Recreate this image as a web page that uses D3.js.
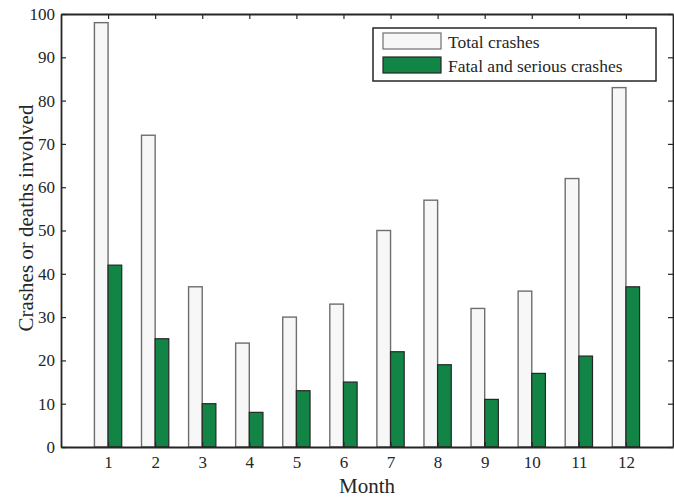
<!DOCTYPE html>
<html>
<head>
<meta charset="utf-8">
<script src="https://cdn.jsdelivr.net/npm/d3@7"></script>
<style>
  body { margin: 0; background: #fff; }
  svg { display: block; font-family: "Liberation Serif", "Times New Roman", serif; }
</style>
</head>
<body>
<div id="chart"></div>
<script>
// Monthly crash counts
const months = [1, 2, 3, 4, 5, 6, 7, 8, 9, 10, 11, 12];
const totalCrashes = [98, 72, 37, 24, 30, 33, 50, 57, 32, 36, 62, 83];
const fatalSerious = [42, 25, 10, 8, 13, 15, 22, 19, 11, 17, 21, 37];
const yTicks = [0, 10, 20, 30, 40, 50, 60, 70, 80, 90, 100];
const seriesNames = ["Total crashes", "Fatal and serious crashes"];

const width = 674, height = 498;
const margin = { top: 14, right: 1, bottom: 51, left: 61 };
const innerW = width - margin.left - margin.right;
const innerH = height - margin.top - margin.bottom;

const svg = d3.select("#chart").append("svg")
  .attr("width", width)
  .attr("height", height);

const g = svg.append("g")
  .attr("transform", "translate(" + margin.left + "," + margin.top + ")");

const x = d3.scaleLinear().domain([0, 13]).range([0, innerW]);
const y = d3.scaleLinear().domain([0, 100]).range([innerH, 0]);
const barW = x(0.29) - x(0);

const axisColor = "#262626";

// Bars: total crashes to the left of each tick, fatal/serious to the right
g.selectAll("rect.total")
  .data(months)
  .enter()
  .append("rect")
  .attr("class", "total")
  .attr("x", (d) => x(d) - barW)
  .attr("y", (d, i) => y(totalCrashes[i]))
  .attr("width", barW)
  .attr("height", (d, i) => y(0) - y(totalCrashes[i]))
  .attr("fill", "#f7f7f7")
  .attr("stroke", "#6e6e6e")
  .attr("stroke-width", 1.4);

g.selectAll("rect.fatal")
  .data(months)
  .enter()
  .append("rect")
  .attr("class", "fatal")
  .attr("x", (d) => x(d))
  .attr("y", (d, i) => y(fatalSerious[i]))
  .attr("width", barW)
  .attr("height", (d, i) => y(0) - y(fatalSerious[i]))
  .attr("fill", "#128445")
  .attr("stroke", "#262626")
  .attr("stroke-width", 1.2);

// Axes (ticks pointing inward, box on all sides)
const fontTick = 17;

const xAxis = g.append("g")
  .attr("transform", "translate(0," + innerH + ")")
  .call(d3.axisBottom(x).tickValues(months).tickSizeInner(-5).tickSizeOuter(0).tickPadding(9));

const xTop = g.append("g")
  .call(d3.axisTop(x).tickValues(months).tickSizeInner(-5).tickSizeOuter(0).tickFormat(""));

const yAxis = g.append("g")
  .call(d3.axisLeft(y).tickValues(yTicks).tickSizeInner(-5).tickSizeOuter(0).tickPadding(6));

const yRight = g.append("g")
  .attr("transform", "translate(" + innerW + ",0)")
  .call(d3.axisRight(y).tickValues(yTicks).tickSizeInner(-5).tickSizeOuter(0).tickFormat(""));

[xAxis, xTop, yAxis, yRight].forEach((a) => {
  a.select(".domain").attr("stroke", axisColor).attr("stroke-width", 1.8);
  a.selectAll(".tick line").attr("stroke", axisColor).attr("stroke-width", 1.2);
  a.selectAll(".tick text")
    .attr("fill", "#262626")
    .style("font-family", "'Liberation Serif', serif")
    .style("font-size", fontTick + "px");
});

// Axis labels
svg.append("text")
  .attr("x", margin.left + innerW / 2)
  .attr("y", 493)
  .attr("text-anchor", "middle")
  .attr("fill", "#262626")
  .style("font-size", "21px")
  .text("Month");

svg.append("text")
  .attr("transform", "translate(33," + 218 + ") rotate(-90)")
  .attr("text-anchor", "middle")
  .attr("fill", "#262626")
  .style("font-size", "21px")
  .text("Crashes or deaths involved");

// Legend
const legend = svg.append("g").attr("transform", "translate(373,28)");
legend.append("rect")
  .attr("width", 283)
  .attr("height", 53)
  .attr("fill", "#fff")
  .attr("stroke", axisColor)
  .attr("stroke-width", 1.5);

const legendFills = ["#f7f7f7", "#128445"];
const legendStrokes = ["#6e6e6e", "#262626"];
seriesNames.forEach((name, i) => {
  legend.append("rect")
    .attr("x", 10)
    .attr("y", 5 + i * 24)
    .attr("width", 58)
    .attr("height", 16)
    .attr("fill", legendFills[i])
    .attr("stroke", legendStrokes[i])
    .attr("stroke-width", 1.2);
  legend.append("text")
    .attr("x", 75)
    .attr("y", 20 + i * 24)
    .attr("fill", "#262626")
    .style("font-size", "17.5px")
    .text(name);
});
</script>
</body>
</html>
